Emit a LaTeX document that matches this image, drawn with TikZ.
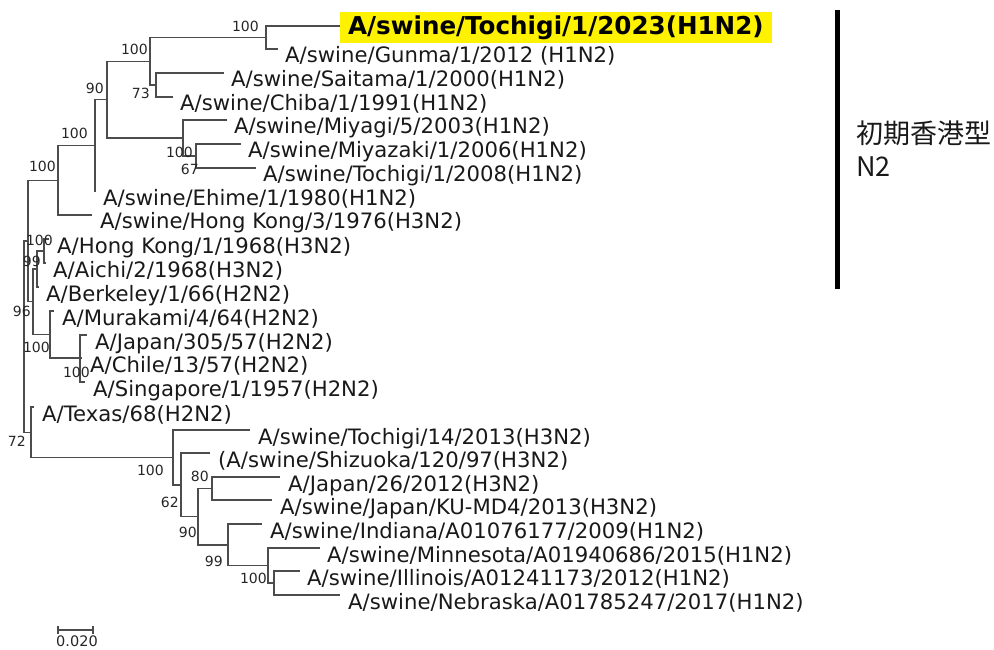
\documentclass[tikz,border=0pt]{standalone}
\usepackage{fontspec}
\setmainfont{DejaVu Sans}
\newfontfamily\cjk{Noto Sans CJK JP}
\begin{document}
\begin{tikzpicture}[x=1pt,y=-1pt,
  br/.style={draw=black!70, line width=1.05pt},
  leaf/.style={anchor=base west, inner sep=0pt, font=\fontsize{21.2}{24}\selectfont, text=black!90},
  bs/.style={anchor=east, inner sep=0pt, font=\fontsize{14}{16}\selectfont, text=black!85},
]
\useasboundingbox (0,0) rectangle (994,650);
% ---------- tree coordinates ----------
\coordinate (root) at (24,336.5);
\coordinate (R1) at (28,241);
% top (swine) clade
\coordinate (N8) at (58,180.4);
\coordinate (N7) at (95,145.75);
\coordinate (N6) at (107,99.5);
\coordinate (N2) at (150,61.25);
\coordinate (N1) at (266,37.5);
\coordinate (N3) at (156,85);
\coordinate (N4) at (183,138);
\coordinate (N5) at (196,156);
\coordinate (lTochigiA) at (340,26);
\coordinate (lGunma) at (278,49);
\coordinate (lSaitama) at (224,73);
\coordinate (lChiba) at (173,97);
\coordinate (lMiyagi) at (227,120);
\coordinate (lMiyazaki) at (241,144);
\coordinate (lTochigiB) at (256,168);
\coordinate (lEhime) at (95,192);
\coordinate (lHKs) at (92,215);
% human clade
\coordinate (n96) at (33,301.75);
\coordinate (nHKAB) at (37,269);
\coordinate (nHKA) at (44,251);
\coordinate (nMJCS) at (50,334.5);
\coordinate (nJCS) at (80,358);
\coordinate (lHK) at (49,239);
\coordinate (lAichi) at (46,263);
\coordinate (lBerkeley) at (39,287);
\coordinate (lMurakami) at (54,311);
\coordinate (lJapanA) at (87,335);
\coordinate (lChile) at (82,358);
\coordinate (lSingapore) at (85,382);
% lower clade
\coordinate (n72) at (31,432.25);
\coordinate (lTexas) at (34,407);
\coordinate (L1) at (173,457.5);
\coordinate (L2) at (181,485);
\coordinate (L3) at (198,516.75);
\coordinate (L4) at (212,488.5);
\coordinate (L5) at (228,545);
\coordinate (L6) at (268,565.5);
\coordinate (L7) at (274,583);
\coordinate (lTochigiC) at (250,430);
\coordinate (lShizuoka) at (210,453);
\coordinate (lJapanB) at (280,477);
\coordinate (lKU) at (272,500);
\coordinate (lIndiana) at (262,524);
\coordinate (lMinnesota) at (320,548);
\coordinate (lIllinois) at (300,571);
\coordinate (lNebraska) at (340,595);
% ---------- branches ----------
\draw[br] (root) |- (R1);
\draw[br] (root) |- (n72);
\draw[br] (R1) |- (N8);
\draw[br] (R1) |- (n96);
\draw[br] (N8) |- (N7);
\draw[br] (N8) |- (lHKs);
\draw[br] (N7) |- (N6);
\draw[br] (N7) |- (lEhime);
\draw[br] (N6) |- (N2);
\draw[br] (N6) |- (N4);
\draw[br] (N2) |- (N1);
\draw[br] (N2) |- (N3);
\draw[br] (N1) |- (lTochigiA);
\draw[br] (N1) |- (lGunma);
\draw[br] (N3) |- (lSaitama);
\draw[br] (N3) |- (lChiba);
\draw[br] (N4) |- (lMiyagi);
\draw[br] (N4) |- (N5);
\draw[br] (N5) |- (lMiyazaki);
\draw[br] (N5) |- (lTochigiB);
\draw[br] (n96) |- (nHKAB);
\draw[br] (n96) |- (nMJCS);
\draw[br] (nHKAB) |- (nHKA);
\draw[br] (nHKAB) |- (lBerkeley);
\draw[br] (nHKA) |- (lHK);
\draw[br] (nHKA) |- (lAichi);
\draw[br] (nMJCS) |- (lMurakami);
\draw[br] (nMJCS) |- (nJCS);
\draw[br] (nJCS) |- (lJapanA);
\draw[br] (nJCS) |- (lChile);
\draw[br] (nJCS) |- (lSingapore);
\draw[br] (n72) |- (lTexas);
\draw[br] (n72) |- (L1);
\draw[br] (L1) |- (lTochigiC);
\draw[br] (L1) |- (L2);
\draw[br] (L2) |- (lShizuoka);
\draw[br] (L2) |- (L3);
\draw[br] (L3) |- (L4);
\draw[br] (L3) |- (L5);
\draw[br] (L4) |- (lJapanB);
\draw[br] (L4) |- (lKU);
\draw[br] (L5) |- (lIndiana);
\draw[br] (L5) |- (L6);
\draw[br] (L6) |- (lMinnesota);
\draw[br] (L6) |- (L7);
\draw[br] (L7) |- (lIllinois);
\draw[br] (L7) |- (lNebraska);
% ---------- leaf labels ----------
\node[fill=yellow, anchor=west, inner xsep=8pt, inner ysep=0pt, minimum height=31pt,
      font=\bfseries\fontsize{24.6}{28}\selectfont, text=black] (tTochigiA) at (340,27.5) {A/swine/Tochigi/1/2023(H1N2)};
\node[leaf] (tGunma) at ([shift={(7,14)}]lGunma) {A/swine/Gunma/1/2012 (H1N2)};
\node[leaf] (tSaitama) at ([shift={(7,14)}]lSaitama) {A/swine/Saitama/1/2000(H1N2)};
\node[leaf] (tChiba) at ([shift={(7,14)}]lChiba) {A/swine/Chiba/1/1991(H1N2)};
\node[leaf] (tMiyagi) at ([shift={(7,14)}]lMiyagi) {A/swine/Miyagi/5/2003(H1N2)};
\node[leaf] (tMiyazaki) at ([shift={(7,14)}]lMiyazaki) {A/swine/Miyazaki/1/2006(H1N2)};
\node[leaf] (tTochigiB) at ([shift={(7,14)}]lTochigiB) {A/swine/Tochigi/1/2008(H1N2)};
\node[leaf] (tEhime) at ([shift={(8,14)}]lEhime) {A/swine/Ehime/1/1980(H1N2)};
\node[leaf] (tHKs) at ([shift={(8,14)}]lHKs) {A/swine/Hong Kong/3/1976(H3N2)};
\node[leaf] (tHK) at ([shift={(8,14)}]lHK) {A/Hong Kong/1/1968(H3N2)};
\node[leaf] (tAichi) at ([shift={(7,14)}]lAichi) {A/Aichi/2/1968(H3N2)};
\node[leaf] (tBerkeley) at ([shift={(7,14)}]lBerkeley) {A/Berkeley/1/66(H2N2)};
\node[leaf] (tMurakami) at ([shift={(8,14)}]lMurakami) {A/Murakami/4/64(H2N2)};
\node[leaf] (tJapanA) at ([shift={(8,14)}]lJapanA) {A/Japan/305/57(H2N2)};
\node[leaf] (tChile) at ([shift={(8,14)}]lChile) {A/Chile/13/57(H2N2)};
\node[leaf] (tSingapore) at ([shift={(8,14)}]lSingapore) {A/Singapore/1/1957(H2N2)};
\node[leaf] (tTexas) at ([shift={(8,14)}]lTexas) {A/Texas/68(H2N2)};
\node[leaf] (tTochigiC) at ([shift={(8,14)}]lTochigiC) {A/swine/Tochigi/14/2013(H3N2)};
\node[leaf] (tShizuoka) at ([shift={(8,14)}]lShizuoka) {(A/swine/Shizuoka/120/97(H3N2)};
\node[leaf] (tJapanB) at ([shift={(8,14)}]lJapanB) {A/Japan/26/2012(H3N2)};
\node[leaf] (tKU) at ([shift={(8,14)}]lKU) {A/swine/Japan/KU-MD4/2013(H3N2)};
\node[leaf] (tIndiana) at ([shift={(8,14)}]lIndiana) {A/swine/Indiana/A01076177/2009(H1N2)};
\node[leaf] (tMinnesota) at ([shift={(7,14)}]lMinnesota) {A/swine/Minnesota/A01940686/2015(H1N2)};
\node[leaf] (tIllinois) at ([shift={(7,14)}]lIllinois) {A/swine/Illinois/A01241173/2012(H1N2)};
\node[leaf] (tNebraska) at ([shift={(8,14)}]lNebraska) {A/swine/Nebraska/A01785247/2017(H1N2)};
% ---------- bootstrap values ----------
\node[bs] (b1) at (259,26) {100};
\node[bs] (b2) at (148,49) {100};
\node[bs] (b3) at (150,93) {73};
\node[bs] (b4) at (104,88) {90};
\node[bs] (b5) at (193,152) {100};
\node[bs] (b6) at (199,169) {67};
\node[bs] (b7) at (88,133) {100};
\node[bs] (b8) at (56,166) {100};
\node[bs] (b9) at (53,240) {100};
\node[bs] (b10) at (41,261) {99};
\node[bs] (b11) at (31,311) {96};
\node[bs] (b12) at (50,347) {100};
\node[bs] (b13) at (90,372) {100};
\node[bs] (b14) at (26,441) {72};
\node[bs] (b15) at (164,470) {100};
\node[bs] (b16) at (179,502) {62};
\node[bs] (b17) at (197,532) {90};
\node[bs] (b18) at (209,476) {80};
\node[bs] (b19) at (223,561) {99};
\node[bs] (b20) at (267,578) {100};
% ---------- scale bar ----------
\coordinate (sbL) at (58,630);
\coordinate (sbR) at (93,630);
\draw[br] (sbL) -- (sbR);
\draw[br] ([yshift=4pt]sbL) -- ([yshift=-4pt]sbL);
\draw[br] ([yshift=4pt]sbR) -- ([yshift=-4pt]sbR);
\node[bs, anchor=center, font=\fontsize{14.5}{16}\selectfont] (sbT) at (77,641) {0.020};
% ---------- clade bar and label ----------
\coordinate (barT) at (837,10);
\coordinate (barB) at (837,289);
\draw[line width=5pt, black] (barT) -- (barB);
\node[anchor=base west, inner sep=0pt, font=\cjk\fontsize{27}{32}\selectfont, text=black!90] (cl1) at (856,144) {初期香港型};
\node[anchor=base west, inner sep=0pt, font=\cjk\fontsize{27}{32}\selectfont, text=black!90] (cl2) at (856,177) {N2};
\end{tikzpicture}
\end{document}
